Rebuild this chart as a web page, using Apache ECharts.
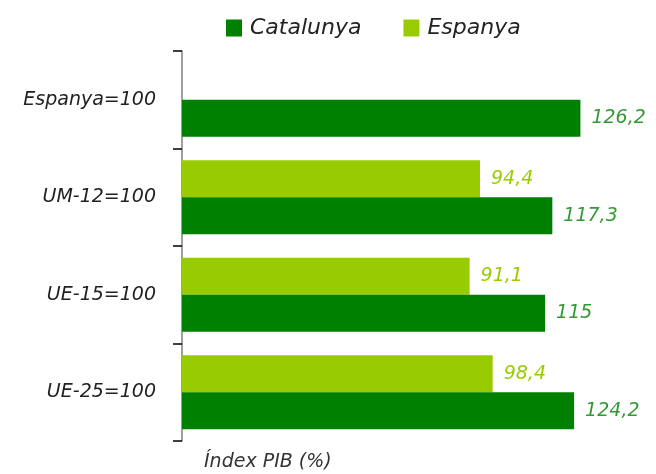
<!DOCTYPE html>
<html>
<head>
<meta charset="utf-8">
<script src="https://cdn.jsdelivr.net/npm/echarts@6/dist/echarts.min.js"></script>
<style>
  html, body { margin: 0; padding: 0; background: #fff; }
  #chart { width: 656px; height: 474px; }
</style>
</head>
<body>
<div id="chart"></div>
<script>
    var categories = ['Espanya=100', 'UM-12=100', 'UE-15=100', 'UE-25=100'];
    var catalunya = [126.2, 117.3, 115, 124.2];
    var espanya = [null, 94.4, 91.1, 98.4];

    var myChart = echarts.init(document.getElementById('chart'));

    function fmt(p) {
        return String(p.value).replace('.', ',');
    }

    var option = {
        animation: false,
        title: {
            text: 'Índex PIB (%)',
            left: 199,
            top: 448,
            textStyle: {
                fontFamily: 'DejaVu Sans',
                fontStyle: 'italic',
                fontWeight: 'normal',
                fontSize: 19,
                color: '#333'
            }
        },
        legend: {
            data: ['Catalunya', 'Espanya'],
            left: 221,
            top: 12,
            icon: 'rect',
            itemWidth: 16,
            itemHeight: 17,
            itemGap: 42,
            textStyle: {
                fontFamily: 'DejaVu Sans',
                fontStyle: 'italic',
                fontSize: 22,
                color: '#222',
                padding: [0, 0, 0, 3]
            }
        },
        grid: {
            left: 182,
            right: 32,
            top: 51,
            bottom: 33
        },
        xAxis: {
            type: 'value',
            min: 0,
            max: 140,
            show: false
        },
        yAxis: {
            type: 'category',
            inverse: true,
            data: categories,
            axisLine: { lineStyle: { color: '#808080', width: 1.5 } },
            axisTick: { show: true, length: 9, lineStyle: { color: '#000', width: 1.5 } },
            axisLabel: {
                margin: 26,
                fontFamily: 'DejaVu Sans',
                fontStyle: 'italic',
                fontSize: 19,
                color: '#222'
            }
        },
        series: [
            {
                name: 'Espanya',
                type: 'bar',
                data: espanya,
                barWidth: 37,
                barGap: '0%',
                itemStyle: { color: '#99cc00' },
                label: {
                    show: true,
                    position: 'right',
                    distance: 11,
                    formatter: fmt,
                    fontFamily: 'DejaVu Sans',
                    fontStyle: 'italic',
                    fontSize: 19,
                    color: '#99cc00'
                }
            },
            {
                name: 'Catalunya',
                type: 'bar',
                data: catalunya,
                barWidth: 37,
                barGap: '0%',
                itemStyle: { color: '#008000' },
                label: {
                    show: true,
                    position: 'right',
                    distance: 11,
                    formatter: fmt,
                    fontFamily: 'DejaVu Sans',
                    fontStyle: 'italic',
                    fontSize: 19,
                    color: '#339933'
                }
            }
        ]
    };

    myChart.setOption(option);
</script>
</body>
</html>
